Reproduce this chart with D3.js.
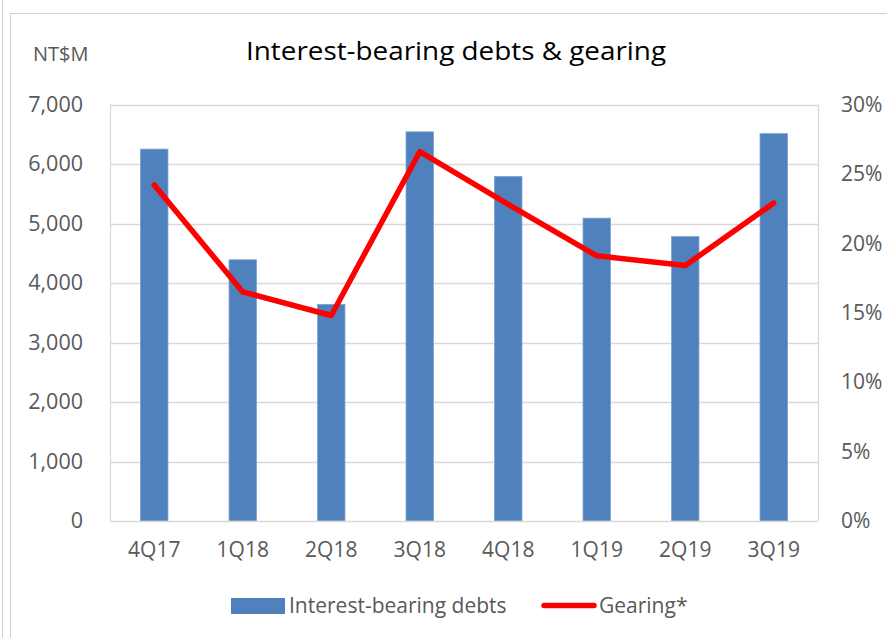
<!DOCTYPE html>
<html>
<head>
<meta charset="utf-8">
<script src="https://cdn.jsdelivr.net/npm/d3@7"></script>
<style>
  body { margin: 0; background: #fff; }
  #container svg { display: block; }
</style>
</head>
<body>
<div id="container"></div>
<script>
const quarters = ['4Q17', '1Q18', '2Q18', '3Q18', '4Q18', '1Q19', '2Q19', '3Q19']
const debts = [6250, 4390, 3640, 6540, 5790, 5090, 4780, 6510]
const gearing = [24.2, 16.5, 14.8, 26.6, 22.8, 19.1, 18.4, 22.9]
const leftTicks = [0, 1000, 2000, 3000, 4000, 5000, 6000, 7000]
const rightTicks = [0, 5, 10, 15, 20, 25, 30]

const config = {
    width: 887,
    height: 638,
    left: 110,
    right: 818,
    top: 104.5,
    bottom: 521,
}

const font = '"Open Sans", "Noto Sans", sans-serif'
const grey = '#595959'

const svg = d3.select('#container')
    .append('svg')
    .attr('width', config.width)
    .attr('height', config.height)

// outer frame
svg.append('line')
    .attr('x1', 2.5).attr('x2', 2.5)
    .attr('y1', 0).attr('y2', config.height)
    .attr('stroke', '#d0d0d0')
svg.append('rect')
    .attr('x', 10.5)
    .attr('y', 13.5)
    .attr('width', config.width)
    .attr('height', config.height)
    .attr('fill', 'none')
    .attr('stroke', '#d0d0d0')

const xScale = d3.scaleBand()
    .domain(quarters)
    .range([config.left, config.right])
    .paddingInner(0.69)
    .paddingOuter(0.345)

const yScale = d3.scaleLinear()
    .domain([0, 7000])
    .range([config.bottom, config.top])

const y2Scale = d3.scaleLinear()
    .domain([0, 30])
    .range([config.bottom, config.top])

// gridlines
svg.append('g')
    .selectAll('line')
    .data(leftTicks.slice(1))
    .join('line')
    .attr('x1', config.left)
    .attr('x2', config.right)
    .attr('y1', d => Math.round(yScale(d)) + 0.5)
    .attr('y2', d => Math.round(yScale(d)) + 0.5)
    .attr('stroke', '#d9d9d9')
    .attr('stroke-width', 1.3)

// plot border (left + right)
svg.append('line')
    .attr('x1', config.left + 0.5).attr('x2', config.left + 0.5)
    .attr('y1', config.top).attr('y2', config.bottom)
    .attr('stroke', '#d9d9d9').attr('stroke-width', 1.3)
svg.append('line')
    .attr('x1', config.right + 0.5).attr('x2', config.right + 0.5)
    .attr('y1', config.top).attr('y2', config.bottom)
    .attr('stroke', '#d9d9d9').attr('stroke-width', 1.3)

// left axis labels
svg.append('g')
    .attr('class', 'y-axis')
    .attr('transform', `translate(${config.left},0)`)
    .call(d3.axisLeft(yScale)
        .tickValues(leftTicks)
        .tickSize(0)
        .tickPadding(27)
        .tickFormat(d3.format(',')))
    .call(g => g.select('.domain').remove())
    .selectAll('text')
    .style('font-family', font)
    .style('font-size', '21.5px')
    .attr('fill', grey)

// right axis labels
svg.append('g')
    .attr('class', 'y2-axis')
    .attr('transform', `translate(${config.right},0)`)
    .call(d3.axisRight(y2Scale)
        .tickValues(rightTicks)
        .tickSize(0)
        .tickPadding(23)
        .tickFormat(d => d + '%'))
    .call(g => g.select('.domain').remove())
    .selectAll('text')
    .style('font-family', font)
    .style('font-size', '21px')
    .attr('fill', grey)

// bars
svg.append('g')
    .selectAll('rect')
    .data(quarters)
    .join('rect')
    .attr('x', d => xScale(d))
    .attr('y', (d, i) => yScale(debts[i]))
    .attr('width', xScale.bandwidth())
    .attr('height', (d, i) => config.bottom - yScale(debts[i]))
    .attr('fill', '#4f81bd')
    .attr('stroke', '#7da2d0')
    .attr('stroke-width', 0.8)

// bottom axis
svg.append('g')
    .attr('class', 'x-axis')
    .attr('transform', `translate(0,${config.bottom})`)
    .call(d3.axisBottom(xScale).tickSize(0).tickPadding(21))
    .call(g => g.select('.domain')
        .attr('d', `M${config.left},0.5H${config.right}`)
        .attr('stroke', '#d9d9d9')
        .attr('stroke-width', 1.3))
    .selectAll('text')
    .style('font-family', font)
    .style('font-size', '21px')
    .attr('fill', grey)

// gearing line
const line = d3.line()
    .x((d, i) => xScale(quarters[i]) + xScale.bandwidth() / 2)
    .y(d => y2Scale(d))

svg.append('path')
    .datum(gearing)
    .attr('d', line)
    .attr('fill', 'none')
    .attr('stroke', '#ff0000')
    .attr('stroke-width', 5.5)
    .attr('stroke-linejoin', 'round')
    .attr('stroke-linecap', 'round')

// title & unit
svg.append('text')
    .attr('x', 246)
    .attr('y', 60)
    .attr('textLength', 420)
    .attr('lengthAdjust', 'spacingAndGlyphs')
    .style('font-family', font)
    .style('font-size', '25px')
    .attr('fill', '#000')
    .text('Interest-bearing debts & gearing')

svg.append('text')
    .attr('x', 33)
    .attr('y', 61)
    .style('font-family', font)
    .style('font-size', '20px')
    .attr('fill', grey)
    .text('NT$M')

// legend
svg.append('rect')
    .attr('x', 231).attr('y', 598)
    .attr('width', 54).attr('height', 16)
    .attr('fill', '#4f81bd')
svg.append('text')
    .attr('x', 289).attr('y', 613)
    .style('font-family', font)
    .style('font-size', '21px')
    .attr('fill', grey)
    .text('Interest-bearing debts')
svg.append('line')
    .attr('x1', 544).attr('x2', 594)
    .attr('y1', 605.5).attr('y2', 605.5)
    .attr('stroke', '#ff0000')
    .attr('stroke-width', 5.5)
    .attr('stroke-linecap', 'round')
svg.append('text')
    .attr('x', 599).attr('y', 613)
    .style('font-family', font)
    .style('font-size', '21px')
    .attr('fill', grey)
    .text('Gearing*')
</script>
</body>
</html>
